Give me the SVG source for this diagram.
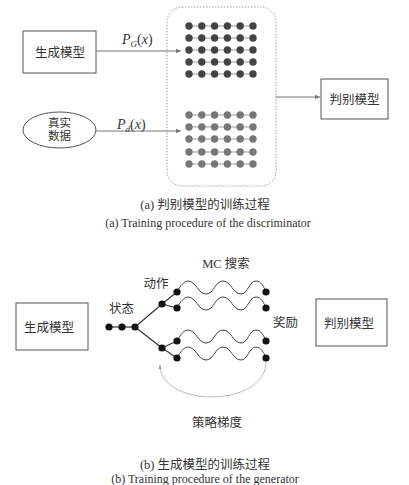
<svg xmlns="http://www.w3.org/2000/svg" xmlns:xlink="http://www.w3.org/1999/xlink" width="409" height="485" viewBox="0 0 409 485">
<style>
text{font-family:"Liberation Serif","Noto Sans CJK SC",serif;fill:#333;}
.cn{font-size:12.5px;text-anchor:middle;}
.cn2{font-size:11.5px;text-anchor:middle;}
.box{fill:#fff;stroke:#555;stroke-width:1;}
.arr{fill:none;stroke:#777;stroke-width:1;}
.dk{fill:#444;}
.lt{fill:#777;}
.row{stroke:#999;stroke-width:1;}
.tree{stroke:#333;stroke-width:1.2;fill:none;}
.wave{stroke:#444;stroke-width:1;fill:none;}
.nd{fill:#111;}
.cap{font-size:12.5px;text-anchor:middle;}
.capen{font-size:12px;text-anchor:middle;}
</style>
<defs>
<marker id="ah" markerWidth="6" markerHeight="6" refX="5" refY="3" orient="auto" markerUnits="userSpaceOnUse">
<path d="M0,0.8 L5,3 L0,5.2 Z" fill="#777"/>
</marker>
<marker id="ah2" markerWidth="5" markerHeight="5" refX="4" refY="2.5" orient="auto" markerUnits="userSpaceOnUse">
<path d="M0,1 L4,2.5 L0,4 Z" fill="#999"/>
</marker>
<path id="wv" d="M177,292 C180,286 184,281 188,281 C196,281 198,294 206,294 C214,294 215,281 223,281 C231,281 233,294 241,294 C248,294 249,281 256,281 C261,281 264,287 266,292"/>
<g id="rowd">
<line x1="189" y1="0" x2="253" y2="0" class="row"/>
<circle cx="189" cy="0" r="3.7"/><circle cx="201.8" cy="0" r="3.7"/><circle cx="214.6" cy="0" r="3.7"/><circle cx="227.4" cy="0" r="3.7"/><circle cx="240.2" cy="0" r="3.7"/><circle cx="253" cy="0" r="3.7"/>
</g>
</defs>
<rect width="409" height="485" fill="#fff"/>

<!-- Part (a) -->
<g id="gen-a">
<rect x="23" y="31" width="73" height="42" class="box"/>
<text x="60" y="56.5" class="cn">生成模型</text>
</g>
<g id="real-data">
<ellipse cx="59.5" cy="130" rx="36.5" ry="18" class="box"/>
<text x="59.5" y="127" class="cn2">真实</text>
<text x="59.5" y="140" class="cn2">数据</text>
</g>
<g id="samples">
<rect x="167" y="7" width="109" height="179" rx="15" fill="none" stroke="#888" stroke-width="0.8" stroke-dasharray="1.5,1.5"/>
<g class="dk">
<use xlink:href="#rowd" href="#rowd" y="26"/>
<use xlink:href="#rowd" href="#rowd" y="38"/>
<use xlink:href="#rowd" href="#rowd" y="50"/>
<use xlink:href="#rowd" href="#rowd" y="62"/>
<use xlink:href="#rowd" href="#rowd" y="74"/>
</g>
<g class="lt">
<use xlink:href="#rowd" href="#rowd" y="115"/>
<use xlink:href="#rowd" href="#rowd" y="127"/>
<use xlink:href="#rowd" href="#rowd" y="139"/>
<use xlink:href="#rowd" href="#rowd" y="152"/>
<use xlink:href="#rowd" href="#rowd" y="164"/>
</g>
</g>
<g id="disc-a">
<rect x="321" y="79" width="67" height="40" class="box"/>
<text x="354.5" y="103.5" class="cn">判别模型</text>
</g>
<g id="connectors-a">
<line x1="96" y1="51" x2="181" y2="51" class="arr" marker-end="url(#ah)"/>
<line x1="96" y1="131" x2="181" y2="131" class="arr" marker-end="url(#ah)"/>
<line x1="276" y1="97" x2="320" y2="97" class="arr" marker-end="url(#ah)"/>
</g>
<text x="122" y="44" font-size="14"><tspan font-style="italic">P</tspan><tspan font-style="italic" font-size="9" dy="3">G</tspan><tspan dy="-3">(</tspan><tspan font-style="italic">x</tspan><tspan>)</tspan></text>
<text x="117" y="129" font-size="14"><tspan font-style="italic">P</tspan><tspan font-style="italic" font-size="9" dy="3">d</tspan><tspan dy="-3">(</tspan><tspan font-style="italic">x</tspan><tspan>)</tspan></text>
<text x="205" y="208.5" class="cap">(a) 判别模型的训练过程</text>
<text x="208" y="227" class="capen">(a) Training procedure of the discriminator</text>

<!-- Part (b) -->
<g id="gen-b">
<rect x="16" y="303" width="72" height="47" class="box"/>
<text x="49" y="331.5" class="cn">生成模型</text>
</g>
<g id="disc-b">
<rect x="316" y="299" width="71" height="47" class="box"/>
<text x="349" y="327.5" class="cn">判别模型</text>
</g>
<g id="connectors-b">
<polyline points="109,327 135,327" class="tree"/>
<polyline points="177,292 162,304 135,327 162,348 177,358" class="tree"/>
<line x1="162" y1="304" x2="177" y2="308" class="tree"/>
<line x1="162" y1="348" x2="177" y2="341" class="tree"/>
<use xlink:href="#wv" href="#wv" class="wave"/>
<use xlink:href="#wv" href="#wv" class="wave" y="16"/>
<use xlink:href="#wv" href="#wv" class="wave" y="49"/>
<use xlink:href="#wv" href="#wv" class="wave" y="66"/>
<path d="M266,362 C266,408 160,408 160,365" fill="none" stroke="#aaa" stroke-width="0.8" marker-end="url(#ah2)"/>
</g>
<g id="tree-nodes" class="nd">
<circle cx="109" cy="327" r="3.6"/><circle cx="122" cy="327" r="3.6"/><circle cx="135" cy="327" r="3.6"/>
<circle cx="162" cy="304" r="3.6"/><circle cx="162" cy="348" r="3.6"/>
<circle cx="177" cy="292" r="3.6"/><circle cx="177" cy="308" r="3.6"/><circle cx="177" cy="341" r="3.6"/><circle cx="177" cy="358" r="3.6"/>
<circle cx="266" cy="292" r="3.6"/><circle cx="266" cy="308" r="3.6"/><circle cx="266" cy="341" r="3.6"/><circle cx="266" cy="358" r="3.6"/>
</g>
<text x="226" y="268" class="cn">MC 搜索</text>
<text x="156" y="287.5" class="cn">动作</text>
<text x="121.5" y="313" class="cn">状态</text>
<text x="285.5" y="326.5" class="cn">奖励</text>
<text x="217" y="426.5" class="cn">策略梯度</text>
<text x="205" y="468.5" class="cap">(b) 生成模型的训练过程</text>
<text x="205" y="483" class="capen">(b) Training procedure of the generator</text>
</svg>
